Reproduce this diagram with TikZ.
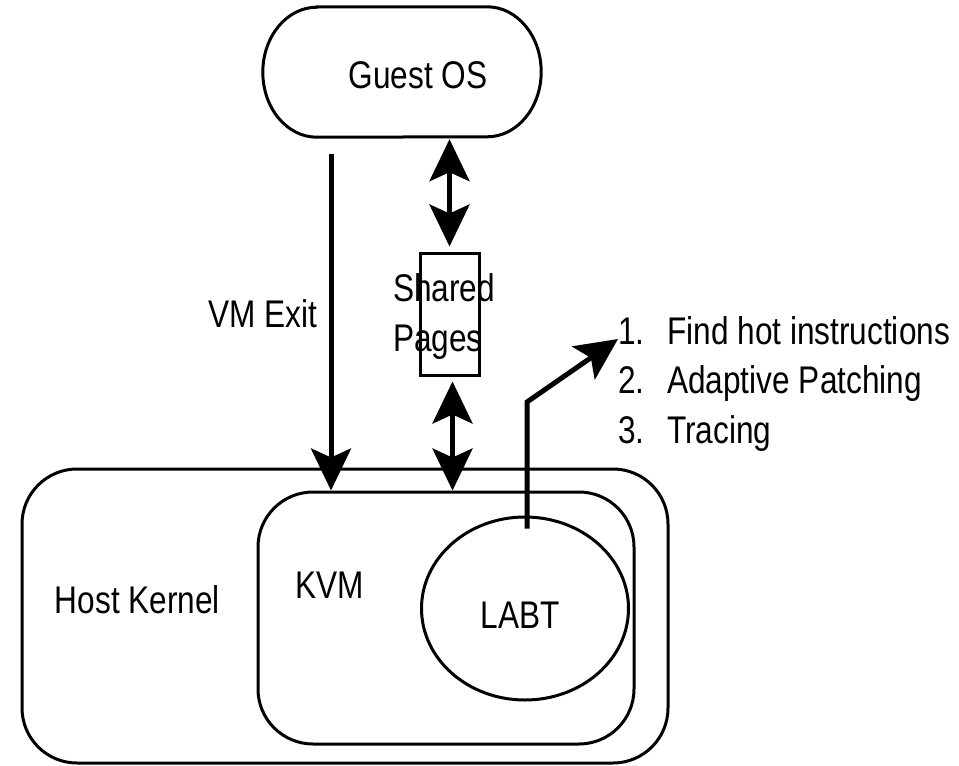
\documentclass[tikz,border=0pt]{standalone}
\usepackage{fontspec}
\setmainfont{Liberation Sans}
\usetikzlibrary{arrows.meta,shapes.geometric}
\tikzset{
  outline/.style={draw=black, line width=3pt},
  lbl/.style={font=\fontsize{31.6pt}{40.5pt}\selectfont, inner sep=0pt, yscale=1.22, align=left},
  head/.tip={Stealth[length=42pt,width=40pt,inset=9pt]},
  conn/.style={line width=5pt, -head},
  dbl/.style={line width=5pt, head-head},
}
\begin{document}
\begin{tikzpicture}[x=1pt,y=-1pt]
\useasboundingbox (0,0) rectangle (959,766);

% containers
\node[outline, rounded corners=55pt, minimum width=646pt, minimum height=294pt] (host) at (345,616) {};
\node[outline, rounded corners=55pt, minimum width=376pt, minimum height=252pt] (kvm) at (446,618) {};
\node[outline, ellipse, inner sep=0pt, minimum width=207pt, minimum height=183pt] (labt) at (525,608.5) {};
\node[outline, inner sep=0pt, minimum width=59pt, minimum height=122pt] (shared) at (449.5,314) {};

% guest OS: stadium with elliptic ends
\node[inner sep=0pt, minimum width=278pt, minimum height=130pt] (guest) at (402,72) {};
\draw[outline] ([xshift=54pt]guest.north west) -- ([xshift=-54pt]guest.north east)
  arc[start angle=90, end angle=-90, x radius=54pt, y radius=65pt]
  -- ([xshift=54pt]guest.south west)
  arc[start angle=270, end angle=90, x radius=54pt, y radius=65pt] -- cycle;

% labels (multi-line labels are placed by the baseline of their last line)
\node[lbl, anchor=base] (guestlbl) at (418,88) {Guest OS};
\node[lbl, anchor=base] (hostlbl) at (137.5,613) {Host Kernel};
\node[lbl, anchor=base west] (kvmlbl) at (295,598) {KVM};
\node[lbl, anchor=base] (labtlbl) at (520,628) {LABT};
\node[lbl, anchor=base] (exitlbl) at (262.5,327) {VM Exit};
\node[lbl, anchor=base west] (sharedlbl) at (393,351) {Shared\\Pages};
\node[lbl, anchor=base west] (steps) at (618,443)
  {\makebox[49pt][l]{1.}Find hot instructions\\
   \makebox[49pt][l]{2.}Adaptive Patching\\
   \makebox[49pt][l]{3.}Tracing};

% connectors
\coordinate (exittop) at (331,154);
\draw[conn] (exittop) -- (exittop |- kvm.north);
\draw[dbl, shorten <=2pt, shorten >=5pt] (shared.north |- guest.south) -- (shared.north);
\draw[dbl, shorten <=5pt] ([xshift=3pt]shared.south) -- ([xshift=3pt]shared.south |- kvm.north);
\coordinate (bend) at (527,402);
\coordinate (steptip) at (618,339);
\draw[conn] (labt.north -| bend) ++(0,13) -- (bend) -- (steptip);
\end{tikzpicture}
\end{document}
